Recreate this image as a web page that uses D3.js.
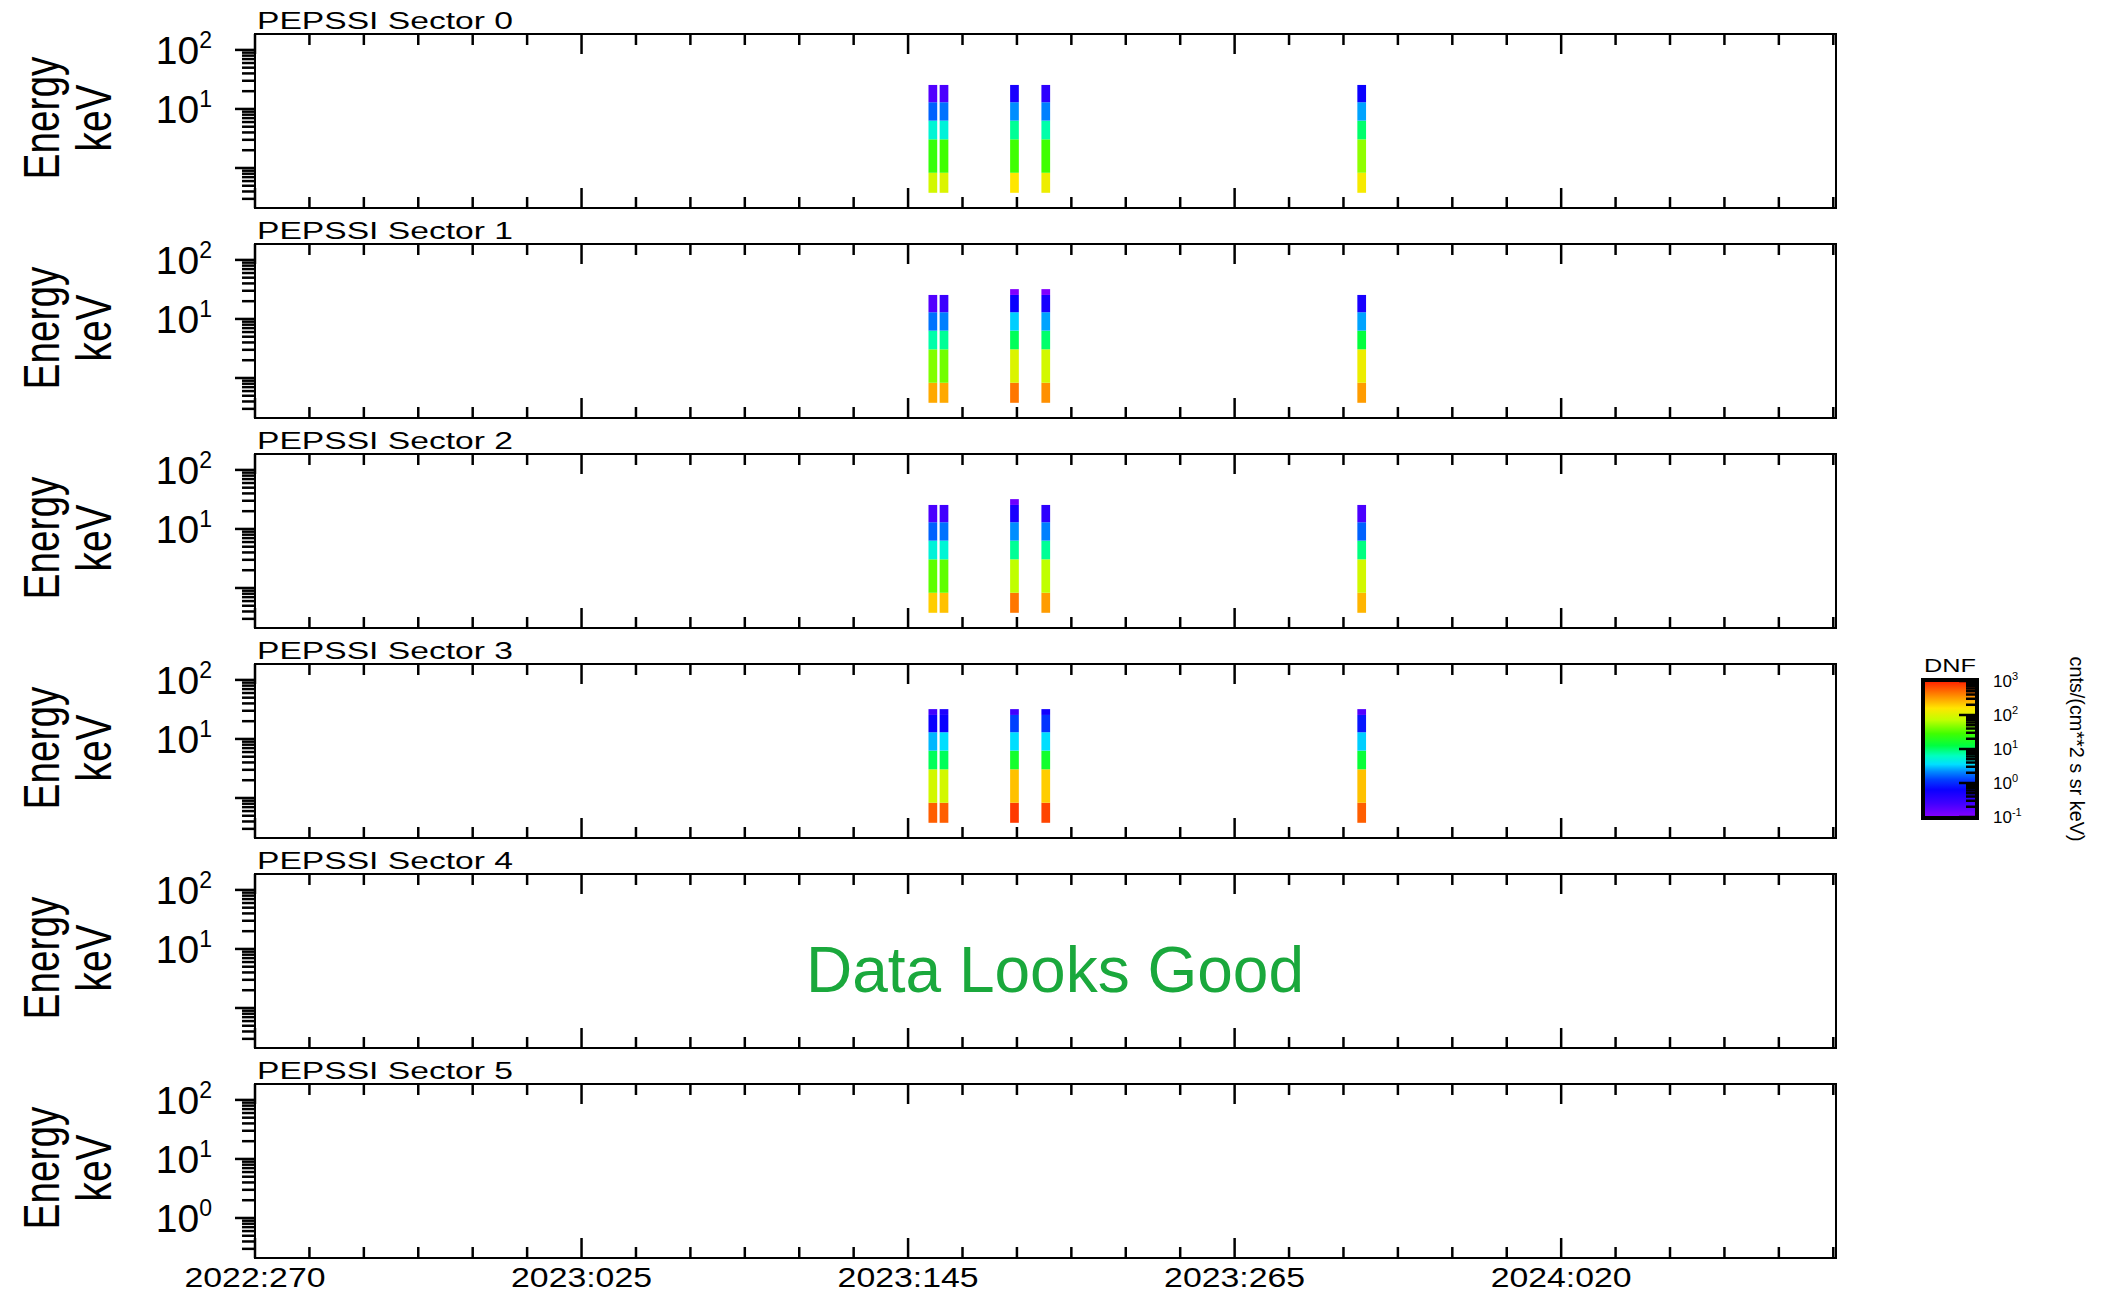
<!doctype html>
<html lang="en">
<head>
    <meta charset="UTF-8">
    <title>PEPSSI Sectors</title>
    <script src="https://d3js.org/d3.v7.min.js"></script>
    <style>
        body { margin: 0; background: #fff; }
        text { font-family: "Liberation Sans", Arial, sans-serif; fill: #000; }
    </style>
</head>
<body>
<svg id="svg1" width="2107" height="1299"></svg>
<script>
    // panel names
    var sectors = ["PEPSSI Sector 0", "PEPSSI Sector 1", "PEPSSI Sector 2",
        "PEPSSI Sector 3", "PEPSSI Sector 4", "PEPSSI Sector 5"];

    // x axis labels (year:doy)
    var timeLabels = ["2022:270", "2023:025", "2023:145", "2023:265", "2024:020"];
    var timeStart = "2022:270";
    var timeEnd = "2024:121";

    // energy bin edges, keV (low -> high)
    var energyEdges = [0.38, 0.83, 3.06, 6.34, 13.0, 25.5, 32];

    // sample intervals, 2023 day of year
    var passStart = [152.5, 156.6, 182.5, 194.0, 310.1];
    var passEnd = [155.7, 159.8, 185.7, 197.2, 313.3];

    // DNF per pass, one value per energy bin (low -> high), null = no data
    var dnfSector0 = [
        [89, 25, 5.2, 1.6, 0.2, null],
        [100, 28, 5.0, 1.8, 0.22, null],
        [158, 28, 7.9, 2.2, 0.5, null],
        [126, 28, 7.1, 2.0, 0.35, null],
        [141, 50, 10, 2.5, 0.63, null]
    ];
    var dnfSector1 = [
        [282, 45, 7.1, 1.8, 0.2, null],
        [282, 40, 7.9, 2.0, 0.28, null],
        [447, 100, 11, 3.2, 0.63, 0.11],
        [355, 89, 10, 2.5, 0.5, 0.11],
        [316, 126, 13, 2.5, 0.5, null]
    ];
    var dnfSector2 = [
        [200, 35, 5.0, 1.6, 0.22, null],
        [224, 35, 5.2, 1.8, 0.25, null],
        [447, 71, 7.9, 2.2, 0.5, 0.14],
        [316, 71, 7.9, 2.0, 0.35, null],
        [251, 89, 8.9, 1.6, 0.22, null]
    ];
    var dnfSector3 = [
        [562, 89, 11, 2.8, 0.63, 0.25],
        [562, 89, 11, 3.5, 0.63, 0.45],
        [794, 224, 16, 3.5, 1.26, 0.25],
        [708, 200, 16, 3.5, 1.1, 0.56],
        [562, 224, 14, 3.2, 0.8, 0.2]
    ];
    var dnfSector4 = [];
    var dnfSector5 = [];
    var allSectors = [dnfSector0, dnfSector1, dnfSector2, dnfSector3, dnfSector4, dnfSector5];

    // colour table, log10(DNF) -> colour
    var ctLog = [-1, -0.6, -0.2, 0.1, 0.35, 0.55, 0.8, 1.1, 1.45, 1.85, 2.2, 2.55, 3];
    var ctColors = ["#8800ff", "#4000ff", "#0a00ff", "#0040ff", "#0090ff", "#00e0ff", "#00ffc0",
        "#00ff40", "#40ff00", "#c0ff00", "#ffe600", "#ff9000", "#ff2000"];

    function doyDate(s) {
        var p = s.split(":");
        return new Date(Date.UTC(+p[0], 0, 1) + (+p[1] - 1) * 864e5);
    }
    function doy2023(d) {
        return new Date(Date.UTC(2023, 0, 1) + (d - 1) * 864e5);
    }

    var svg = d3.select("svg");
    var left = 255, right = 1836, panelH = 174, pitch = 210, firstTop = 34;

    var xScale = d3.scaleUtc().domain([doyDate(timeStart), doyDate(timeEnd)]).range([left, right]);
    var colorLin = d3.scaleLinear().domain(ctLog).range(ctColors).clamp(true);
    var color = function (v) { return colorLin(Math.log10(v)); };

    var majorX = timeLabels.map(doyDate);
    var minorX = d3.range(0, 582, 20).map(function (d) {
        return new Date(doyDate(timeStart).getTime() + d * 864e5);
    }).filter(function (d) {
        return !majorX.some(function (m) { return Math.abs(m - d) < 864e5; });
    });

    function supLabel(g, x, y, exp, big, small, anchor) {
        var t = g.append("text").attr("x", x).attr("y", y)
            .attr("text-anchor", anchor).style("font-size", big + "px").text("10");
        t.append("tspan").attr("dy", -big * 0.4).style("font-size", small + "px").text(exp);
    }

    sectors.forEach(function (name, i) {
        var top = firstTop + i * pitch;
        var bottom = top + panelH;
        var yScale = d3.scaleLog().domain([0.21, 186]).range([bottom, top]);
        var g = svg.append("g");

        // spectrogram cells
        var cells = [];
        allSectors[i].forEach(function (row, j) {
            row.forEach(function (v, k) {
                if (v != null) cells.push({ j: j, k: k, v: v });
            });
        });
        g.selectAll("rect.cell")
            .data(cells)
            .enter()
            .append("rect")
            .attr("class", "cell")
            .attr("x", function (d) { return xScale(doy2023(passStart[d.j])); })
            .attr("width", function (d) { return xScale(doy2023(passEnd[d.j])) - xScale(doy2023(passStart[d.j])); })
            .attr("y", function (d) { return yScale(energyEdges[d.k + 1]); })
            .attr("height", function (d) { return yScale(energyEdges[d.k]) - yScale(energyEdges[d.k + 1]); })
            .attr("fill", function (d) { return color(d.v); });

        // frame
        g.append("rect")
            .attr("x", left).attr("y", top)
            .attr("width", right - left).attr("height", panelH)
            .attr("fill", "none").attr("stroke", "#000").attr("stroke-width", 2);

        // x ticks, top and bottom, inward
        [[majorX, 20], [minorX, 11]].forEach(function (set) {
            set[0].forEach(function (d) {
                var x = xScale(d);
                g.append("line").attr("x1", x).attr("x2", x).attr("y1", bottom).attr("y2", bottom - set[1])
                    .attr("stroke", "#000").attr("stroke-width", 2.5);
                g.append("line").attr("x1", x).attr("x2", x).attr("y1", top).attr("y2", top + set[1])
                    .attr("stroke", "#000").attr("stroke-width", 2.5);
            });
        });

        // y ticks, outward on the left
        yScale.ticks().forEach(function (v) {
            var lg = Math.log10(v);
            var major = Math.abs(lg - Math.round(lg)) < 1e-6;
            g.append("line")
                .attr("x1", left).attr("x2", left - (major ? 20 : 13))
                .attr("y1", yScale(v)).attr("y2", yScale(v))
                .attr("stroke", "#000").attr("stroke-width", 2.5);
        });
        var labelled = i == 5 ? [100, 10, 1] : [100, 10];
        labelled.forEach(function (v) {
            supLabel(g, 212, yScale(v) + 14, String(Math.round(Math.log10(v))), 39, 23, "end");
        });

        // titles
        g.append("text").attr("x", 257).attr("y", top - 5)
            .attr("textLength", 256).attr("lengthAdjust", "spacingAndGlyphs")
            .style("font-size", "23px").text(name);
        g.append("text").attr("transform", "translate(59," + (top + 84) + ") rotate(-90)")
            .attr("text-anchor", "middle").attr("textLength", 123).attr("lengthAdjust", "spacingAndGlyphs")
            .style("font-size", "50px").text("Energy");
        g.append("text").attr("transform", "translate(111," + (top + 84) + ") rotate(-90)")
            .attr("text-anchor", "middle").attr("textLength", 67).attr("lengthAdjust", "spacingAndGlyphs")
            .style("font-size", "50px").text("keV");

        if (i == 4) {
            g.append("text").attr("x", 1055).attr("y", top + 118)
                .attr("text-anchor", "middle").style("font-size", "64px")
                .style("fill", "#1aa83c").text("Data Looks Good");
        }
    });

    // bottom time labels
    timeLabels.forEach(function (s) {
        svg.append("text").attr("x", xScale(doyDate(s))).attr("y", 1287)
            .attr("text-anchor", "middle").attr("textLength", 141).attr("lengthAdjust", "spacingAndGlyphs")
            .style("font-size", "27px").text(s);
    });

    // colour bar
    var cbX = 1923, cbW = 54, cbTop = 681, cbBot = 817;
    var cbScale = d3.scaleLog().domain([0.1, 1000]).range([cbBot, cbTop]);
    var grad = svg.append("defs").append("linearGradient")
        .attr("id", "cbgrad").attr("x1", 0).attr("x2", 0).attr("y1", 1).attr("y2", 0);
    ctLog.forEach(function (l, i) {
        grad.append("stop").attr("offset", (l + 1) / 4).attr("stop-color", ctColors[i]);
    });
    svg.append("rect").attr("x", cbX).attr("y", cbTop).attr("width", cbW).attr("height", cbBot - cbTop)
        .attr("fill", "url(#cbgrad)");
    cbScale.ticks().forEach(function (v) {
        var lg = Math.log10(v);
        var major = Math.abs(lg - Math.round(lg)) < 1e-6;
        svg.append("line")
            .attr("x1", cbX + cbW).attr("x2", cbX + cbW - (major ? 18 : 11))
            .attr("y1", cbScale(v)).attr("y2", cbScale(v))
            .attr("stroke", "#000").attr("stroke-width", 2.5);
        if (major) supLabel(svg, 1993, cbScale(v) + 6, String(Math.round(lg)), 17, 11, "start");
    });
    svg.append("rect").attr("x", cbX).attr("y", cbTop - 1).attr("width", cbW).attr("height", cbBot - cbTop + 2)
        .attr("fill", "none").attr("stroke", "#000").attr("stroke-width", 4);
    svg.append("text").attr("x", cbX + cbW / 2).attr("y", 672)
        .attr("text-anchor", "middle").attr("textLength", 52).attr("lengthAdjust", "spacingAndGlyphs")
        .style("font-size", "19px").text("DNF");
    svg.append("text").attr("transform", "translate(2070,749) rotate(90)")
        .attr("text-anchor", "middle").attr("textLength", 185).attr("lengthAdjust", "spacingAndGlyphs")
        .style("font-size", "21px").text("cnts/(cm**2 s sr keV)");
</script>
</body>
</html>
